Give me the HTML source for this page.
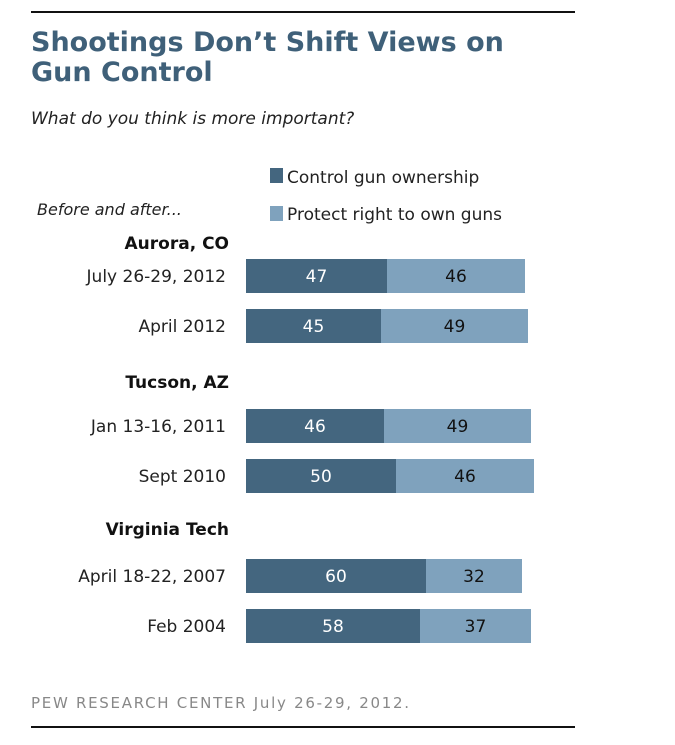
<!DOCTYPE html>
<html><head><meta charset="utf-8"><style>
body{margin:0;background:#fff;}
svg text{font-family:"DejaVu Sans","Liberation Sans",sans-serif;}
</style></head><body>
<svg width="675" height="740" viewBox="0 0 675 740">
<line x1="31" y1="12" x2="575" y2="12" stroke="#111" stroke-width="2"/>
<text x="31" y="51" font-size="27" font-weight="bold" fill="#3f6079">Shootings Don’t Shift Views on</text>
<text x="31" y="81" font-size="27" font-weight="bold" fill="#3f6079">Gun Control</text>
<text x="31" y="124" font-size="17" font-style="italic" fill="#222">What do you think is more important?</text>
<rect x="270" y="168" width="13" height="15" fill="#44667f"/>
<text x="287" y="183" font-size="17" fill="#222">Control gun ownership</text>
<rect x="270" y="206" width="13" height="15" fill="#7fa2bd"/>
<text x="287" y="220" font-size="17" fill="#222">Protect right to own guns</text>
<text x="37" y="215" font-size="16" font-style="italic" fill="#222">Before and after...</text>
<g id="bars"></g>
<text x="31" y="708" font-size="15" fill="#888" textLength="378" lengthAdjust="spacing">PEW RESEARCH  CENTER July 26-29, 2012.</text>
<line x1="31" y1="727" x2="575" y2="727" stroke="#111" stroke-width="2"/>
</svg>
<script>
const groups=["Aurora, CO","Tucson, AZ","Virginia Tech"];
const labels=["July 26-29, 2012","April 2012","Jan 13-16, 2011","Sept 2010","April 18-22, 2007","Feb 2004"];
const control=[47,45,46,50,60,58];
const protect=[46,49,49,46,32,37];
const NS="http://www.w3.org/2000/svg";
const g=document.getElementById('bars');
const x0=246, unit=3;
const xs=v=>v*unit;
const rowY=i=>259+Math.floor(i/2)*150+(i%2)*50;
function mk(tag,attrs,txt){const e=document.createElementNS(NS,tag);for(const k in attrs)e.setAttribute(k,attrs[k]);if(txt!=null)e.textContent=txt;g.appendChild(e);return e;}
groups.forEach((name,j)=>{
  const off=j===0?10:(j===1?21:24);
  const t=mk('text',{x:229,y:rowY(j*2)-off,'font-size':17,'font-weight':'bold','text-anchor':'end',fill:'#111'},name);
  
  
});
labels.forEach((lab,i)=>{
  const y=rowY(i),h=34;
  const t=mk('text',{x:226,y:y+h/2+6,'font-size':17,'text-anchor':'end',fill:'#222'},lab);
  
  
  const w1=xs(control[i]),w2=xs(protect[i]);
  const b1=mk('rect',{x:x0,y:y,width:w1,height:h,fill:'#44667f'});
  
  
  const b2=mk('rect',{x:x0+w1,y:y,width:w2,height:h,fill:'#7fa2bd'});
  
  
  const v1=mk('text',{x:x0+w1/2,y:y+h/2+6,'font-size':17,'text-anchor':'middle',fill:'#fff'},control[i]);
  
  
  const v2=mk('text',{x:x0+w1+w2/2,y:y+h/2+6,'font-size':17,'text-anchor':'middle',fill:'#111'},protect[i]);
  
  
});
</script>
</body></html>
